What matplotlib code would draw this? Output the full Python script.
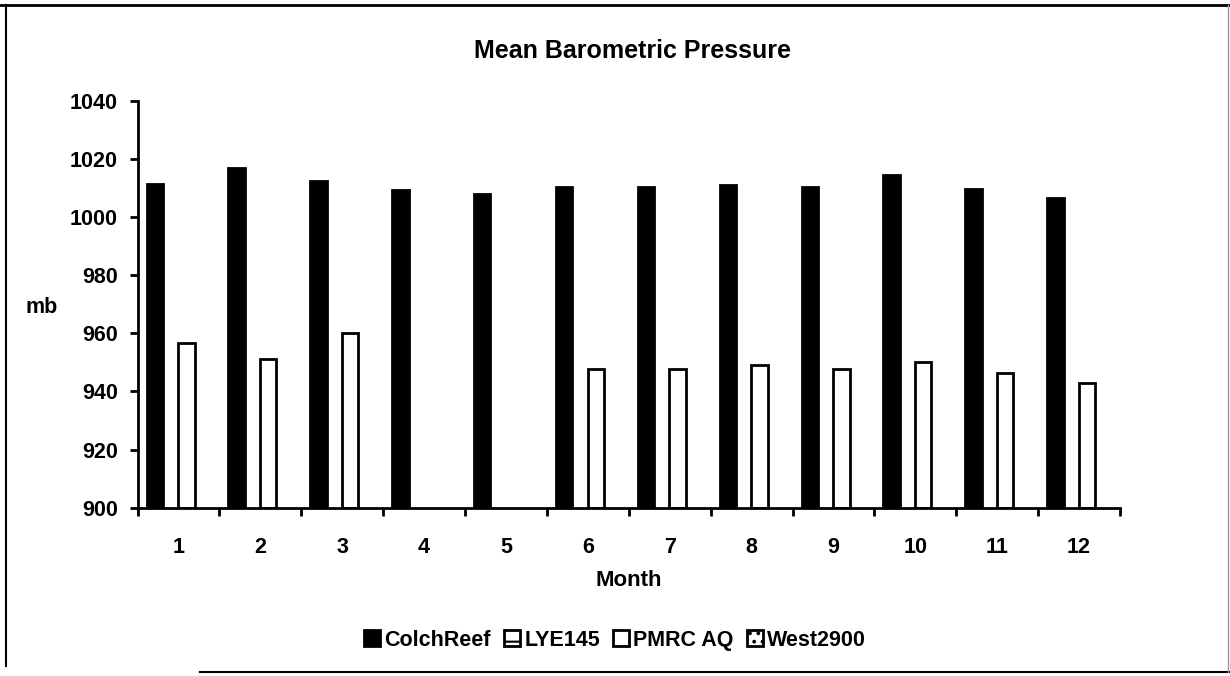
import numpy as np
import matplotlib
matplotlib.use('Agg')
from matplotlib import pyplot as plt
from matplotlib.lines import Line2D

plt.rcParams['font.family'] = ['Liberation Sans', 'DejaVu Sans']
plt.rcParams['font.weight'] = 'bold'
plt.rcParams['hatch.linewidth'] = 1.5

months = [1, 2, 3, 4, 5, 6, 7, 8, 9, 10, 11, 12]
colch_reef = [1011.4, 1016.8, 1012.5, 1009.3, 1007.8, 1010.4, 1010.3, 1011.0, 1010.2, 1014.4, 1009.5, 1006.6]
lye145 = [np.nan] * 12
pmrc_aq = [956.6, 951.2, 960.2, np.nan, np.nan, 947.7, 947.6, 949.1, 947.6, 950.2, 946.2, 943.0]
west2900 = [np.nan] * 12
yticks = [900, 920, 940, 960, 980, 1000, 1020, 1040]

fig = plt.figure(figsize=(12.3, 6.76), dpi=100)
ax = fig.add_axes([0.1118, 0.249, 0.7988, 0.602])

x = np.arange(1, 13)
w = 0.2
base = 900
series = [
    ('ColchReef', colch_reef, dict(color='black', edgecolor='black')),
    ('LYE145', lye145, dict(color='white', edgecolor='black', hatch='-')),
    ('PMRC AQ', pmrc_aq, dict(color='white', edgecolor='black')),
    ('West2900', west2900, dict(color='white', edgecolor='black', hatch='..')),
]
for i, (name, vals, style) in enumerate(series):
    v = np.array(vals, dtype=float)
    ax.bar(x + (i - 1.5) * 0.193, v - base, width=w, bottom=base, label=name,
           linewidth=2, **style)

ax.set_xlim(0.5, 12.5)
ax.set_ylim(900, 1040)
ax.set_yticks(yticks)
ax.set_xticks(np.arange(0.5, 13, 1))
ax.set_xticklabels([])
ax.set_xticks(x, minor=True)
ax.set_xticklabels([str(m) for m in months], minor=True)
ax.tick_params(axis='x', which='major', direction='out', length=6, width=2)
ax.tick_params(axis='x', which='minor', length=0, pad=21, labelsize=15.5)
ax.tick_params(axis='y', direction='out', length=6, width=2, labelsize=15.5, pad=8)
for s in ['top', 'right']:
    ax.spines[s].set_visible(False)
for s in ['left', 'bottom']:
    ax.spines[s].set_linewidth(2)

fig.text(0.514, 0.925, 'Mean Barometric Pressure', ha='center', va='center',
         fontsize=18, fontweight='bold')
fig.text(0.034, 0.545, 'mb', ha='center', va='center', fontsize=15.5, fontweight='bold')
fig.text(0.511, 0.142, 'Month', ha='center', va='center', fontsize=16, fontweight='bold')

leg = fig.legend(loc='center', bbox_to_anchor=(0.5, 0.053), ncol=4, frameon=False,
                 fontsize=15.5, handlelength=0.75, handleheight=0.75, handletextpad=0.2,
                 columnspacing=0.6)

# scanned page border
fig.add_artist(Line2D([0.0, 1.0], [0.993, 0.993], color='black', lw=2))
fig.add_artist(Line2D([0.005, 0.005], [0.993, 0.015], color='black', lw=1.5))
fig.add_artist(Line2D([0.163, 1.0], [0.006, 0.006], color='black', lw=1.5))
fig.add_artist(Line2D([0.998, 0.998], [0.993, 0.006], color='#999999', lw=1))

fig.savefig('out.png', dpi=100)
